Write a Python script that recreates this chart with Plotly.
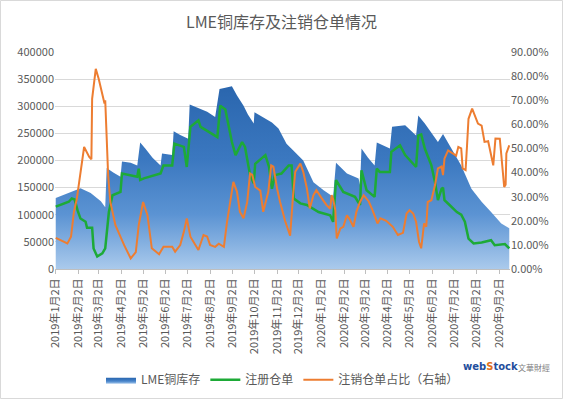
import plotly.graph_objects as go

# ---- data ----
inv_dates = ["2019-01-02","2019-01-16","2019-02-05","2019-02-19","2019-03-05","2019-03-11","2019-03-13","2019-03-22",
             "2019-04-01","2019-04-03","2019-04-15","2019-04-24","2019-04-28","2019-05-05","2019-05-15","2019-05-26",
             "2019-05-28","2019-06-11","2019-06-13","2019-06-22","2019-07-03","2019-07-05","2019-07-17","2019-07-29",
             "2019-08-09","2019-08-15","2019-08-23","2019-09-01","2019-09-08","2019-09-17","2019-09-23","2019-10-01",
             "2019-10-02","2019-10-17","2019-10-26","2019-11-04","2019-11-15","2019-11-24","2019-12-08","2019-12-22",
             "2020-01-05","2020-01-18","2020-01-22","2020-02-06","2020-02-22","2020-02-24","2020-02-26","2020-03-06",
             "2020-03-15","2020-03-18","2020-04-05","2020-04-08","2020-04-19","2020-04-26","2020-05-11","2020-05-14",
             "2020-05-23","2020-06-01","2020-06-10","2020-06-17","2020-06-26","2020-07-12","2020-07-26","2020-08-09",
             "2020-08-22","2020-09-05","2020-09-16"]
inv_values = [131000,138000,149000,140000,125000,114000,186000,178000,
              170000,198000,196000,191000,233000,222000,205000,191000,
              213000,210000,254000,247000,240000,303000,296000,290000,
              280000,332000,334000,337000,320000,301000,285000,268000,
              289000,277000,270000,259000,231000,219000,200000,160000,
              145000,133000,196000,176000,167000,155000,222000,205000,
              191000,233000,222000,262000,264000,265000,246000,283000,
              268000,252000,234000,249000,228000,191000,148000,124000,
              105000,84000,75000]

reg_dates = ["2019-01-02","2019-01-20","2019-01-24","2019-01-28","2019-02-01","2019-02-05","2019-02-12","2019-02-14",
             "2019-02-21","2019-02-23","2019-02-28","2019-03-07","2019-03-11","2019-03-16","2019-03-21","2019-04-01",
             "2019-04-03","2019-04-24","2019-04-26","2019-04-28","2019-05-03","2019-05-26","2019-05-30","2019-06-11",
             "2019-06-14","2019-06-27","2019-07-01","2019-07-06","2019-07-17","2019-07-20","2019-08-12","2019-08-16",
             "2019-08-23","2019-09-01","2019-09-06","2019-09-15","2019-09-19","2019-09-26","2019-10-01","2019-10-03",
             "2019-10-17","2019-10-22","2019-10-26","2019-10-30","2019-11-08","2019-11-18","2019-11-22","2019-11-25",
             "2019-12-04","2019-12-13","2019-12-29","2020-01-14","2020-01-18","2020-01-22","2020-02-01","2020-02-17",
             "2020-02-24","2020-02-26","2020-03-04","2020-03-15","2020-03-18","2020-03-22","2020-04-05","2020-04-07",
             "2020-04-19","2020-04-26","2020-05-11","2020-05-14","2020-05-18","2020-05-23","2020-06-01","2020-06-06",
             "2020-06-10","2020-06-15","2020-06-17","2020-06-19","2020-06-26","2020-07-06","2020-07-12","2020-07-17",
             "2020-07-22","2020-07-29","2020-08-09","2020-08-22","2020-08-27","2020-09-10","2020-09-16"]
reg_values = [115000,124000,130000,128000,108000,93000,87000,76000,
              76000,38000,23000,29000,38000,105000,136000,142000,
              176000,170000,185000,164000,167000,176000,191000,191000,
              231000,225000,188000,262000,274000,262000,243000,301000,
              294000,234000,210000,234000,225000,173000,158000,194000,
              210000,188000,148000,173000,176000,191000,191000,130000,
              121000,118000,105000,99000,87000,164000,142000,133000,
              118000,182000,145000,133000,185000,179000,179000,216000,
              228000,210000,188000,246000,248000,222000,191000,160000,
              127000,148000,150000,127000,118000,105000,100000,87000,
              56000,47000,49000,53000,44000,46000,38000]

ratio_dates = ["2019-01-02","2019-01-09","2019-01-18","2019-01-23","2019-01-27","2019-01-31","2019-02-05","2019-02-10",
               "2019-02-17","2019-02-20","2019-02-21","2019-02-26","2019-03-02","2019-03-07","2019-03-10","2019-03-11",
               "2019-03-15","2019-03-18","2019-03-25","2019-04-06","2019-04-15","2019-04-22","2019-04-26","2019-05-02",
               "2019-05-08","2019-05-14","2019-05-24","2019-05-30","2019-06-11","2019-06-15","2019-06-22","2019-06-27",
               "2019-07-01","2019-07-06","2019-07-13","2019-07-17","2019-07-24","2019-07-29","2019-08-02","2019-08-09",
               "2019-08-14","2019-08-21","2019-08-25","2019-08-30","2019-09-03","2019-09-08","2019-09-12","2019-09-17",
               "2019-09-22","2019-09-26","2019-09-29","2019-10-03","2019-10-10","2019-10-14","2019-10-17","2019-10-21",
               "2019-10-25","2019-10-28","2019-11-02","2019-11-06","2019-11-13","2019-11-20","2019-11-24","2019-11-27",
               "2019-12-04","2019-12-08","2019-12-13","2019-12-17","2019-12-22","2019-12-26","2020-01-02","2020-01-09",
               "2020-01-14","2020-01-16","2020-01-18","2020-01-21","2020-01-23","2020-01-28","2020-02-01","2020-02-06",
               "2020-02-10","2020-02-15","2020-02-19","2020-02-24","2020-02-29","2020-03-07","2020-03-12","2020-03-19",
               "2020-03-23","2020-03-31","2020-04-09","2020-04-16","2020-04-23","2020-04-28","2020-05-02","2020-05-07",
               "2020-05-11","2020-05-15","2020-05-18","2020-05-22","2020-05-25","2020-05-27","2020-06-01","2020-06-06",
               "2020-06-10","2020-06-15","2020-06-17","2020-06-19","2020-06-24","2020-07-01","2020-07-05","2020-07-08",
               "2020-07-12","2020-07-14","2020-07-18","2020-07-20","2020-07-22","2020-07-27","2020-07-30","2020-08-04",
               "2020-08-09","2020-08-11","2020-08-13","2020-08-18","2020-08-22","2020-08-25","2020-08-28","2020-09-03",
               "2020-09-05","2020-09-09","2020-09-11","2020-09-12","2020-09-16"]
ratio_values = [0.129,0.120,0.106,0.134,0.237,0.292,0.410,0.506,
                0.465,0.455,0.706,0.830,0.789,0.720,0.686,0.700,
                0.389,0.278,0.182,0.099,0.044,0.070,0.182,0.278,
                0.223,0.086,0.061,0.092,0.092,0.072,0.099,0.154,
                0.210,0.134,0.099,0.079,0.141,0.135,0.100,0.092,
                0.105,0.092,0.189,0.292,0.361,0.320,0.237,0.210,
                0.278,0.396,0.390,0.340,0.325,0.237,0.278,0.320,
                0.430,0.425,0.334,0.280,0.200,0.138,0.306,0.403,
                0.437,0.403,0.334,0.251,0.306,0.327,0.295,0.265,
                0.250,0.306,0.290,0.245,0.127,0.168,0.175,0.223,
                0.205,0.175,0.237,0.278,0.306,0.280,0.245,0.189,
                0.210,0.200,0.175,0.141,0.150,0.230,0.244,0.230,
                0.196,0.113,0.086,0.189,0.175,0.278,0.285,0.348,
                0.417,0.425,0.389,0.458,0.492,0.479,0.470,0.506,
                0.500,0.417,0.410,0.513,0.623,0.665,0.644,0.603,
                0.595,0.561,0.527,0.530,0.472,0.430,0.541,0.540,
                0.475,0.340,0.350,0.479,0.513]

tick_dates = ["2019-01-02","2019-02-02","2019-03-02","2019-04-02","2019-05-02","2019-06-02","2019-07-02",
              "2019-08-02","2019-09-02","2019-10-02","2019-11-02","2019-12-02","2020-01-02","2020-02-02",
              "2020-03-02","2020-04-02","2020-05-02","2020-06-02","2020-07-02","2020-08-02","2020-09-02"]
tick_labels = ["2019年1月2日","2019年2月2日","2019年3月2日","2019年4月2日","2019年5月2日","2019年6月2日",
               "2019年7月2日","2019年8月2日","2019年9月2日","2019年10月2日","2019年11月2日","2019年12月2日",
               "2020年1月2日","2020年2月2日","2020年3月2日","2020年4月2日","2020年5月2日","2020年6月2日",
               "2020年7月2日","2020年8月2日","2020年9月2日"]

FONT = "Noto Sans CJK SC, Noto Sans, sans-serif"
TXT = "#595959"

fig = go.Figure()
fig.add_trace(go.Scatter(
    x=inv_dates, y=inv_values, name="LME铜库存", mode="lines",
    line=dict(width=0, color="#4A86C8"), fill="tozeroy",
    fillgradient=dict(type="vertical",
                      colorscale=[[0, "#AACAEC"], [0.3, "#5B93D3"], [0.6, "#3B78C0"], [1, "#2A66AE"]]),
))
fig.add_trace(go.Scatter(
    x=reg_dates, y=reg_values, name="注册仓单", mode="lines",
    line=dict(width=2.5, color="#1DAA37"),
))
fig.add_trace(go.Scatter(
    x=ratio_dates, y=ratio_values, name="注销仓单占比（右轴）", mode="lines",
    line=dict(width=2, color="#ED7D31"), yaxis="y2",
))

fig.update_layout(
    width=563, height=399,
    margin=dict(l=55, r=53, t=52, b=130, autoexpand=False),
    paper_bgcolor="white", plot_bgcolor="white",
    font=dict(family=FONT, size=11, color=TXT),
    title=dict(text="LME铜库存及注销仓单情况", x=0.5, xanchor="center", y=0.945, yanchor="middle",
               font=dict(size=16, color=TXT, family=FONT)),
    showlegend=True,
    legend=dict(orientation="h", x=0.5, xanchor="center", y=-0.51, yanchor="middle",
                font=dict(size=12, color=TXT), itemwidth=30, bgcolor="rgba(0,0,0,0)"),
    xaxis=dict(type="date", range=["2019-01-01", "2020-09-17"], automargin=False,
               tickmode="array", tickvals=tick_dates, ticktext=tick_labels, tickangle=-90,
               showgrid=False, showline=True, linecolor="#BFBFBF", linewidth=1,
               ticks="outside", ticklen=4, tickcolor="#BFBFBF",
               tickfont=dict(size=11, color=TXT), zeroline=False),
    yaxis=dict(range=[0, 400000], dtick=50000, tickformat="d", showgrid=True, gridcolor="#D9D9D9",
               automargin=False, zeroline=False, showline=False, ticks="",
               tickfont=dict(size=11, color=TXT)),
    yaxis2=dict(range=[0, 0.9], dtick=0.1, tickformat=".2%", overlaying="y", side="right",
                automargin=False, showgrid=False, zeroline=False, showline=False,
                tickfont=dict(size=11, color=TXT)),
)

# chart-area border along the figure edges
fig.add_shape(type="rect", xref="paper", yref="paper",
              x0=-54.5 / 455, x1=(562.5 - 55) / 455, y0=-129.5 / 217, y1=1 + 51.5 / 217,
              line=dict(color="#D9D9D9", width=1), fillcolor="rgba(0,0,0,0)", layer="below")

fig.add_annotation(xref="paper", yref="paper", x=(490 - 55) / 455, y=-97 / 217, xanchor="center", yanchor="middle",
                   text="<b><span style='color:#1F4E9C'>web</span><span style='color:#E07020'>S</span>"
                        "<span style='color:#1F4E9C'>tock</span></b>", showarrow=False,
                   font=dict(size=10, family="DejaVu Sans, sans-serif"))
fig.add_annotation(xref="paper", yref="paper", x=(534 - 55) / 455, y=-98 / 217, xanchor="center", yanchor="middle",
                   text="文華財經", showarrow=False, font=dict(size=8, color="#7F7F7F", family=FONT))

fig.write_html("out.html", config={"displayModeBar": False},
               post_script="document.body.style.margin='0';document.body.style.padding='0';")
